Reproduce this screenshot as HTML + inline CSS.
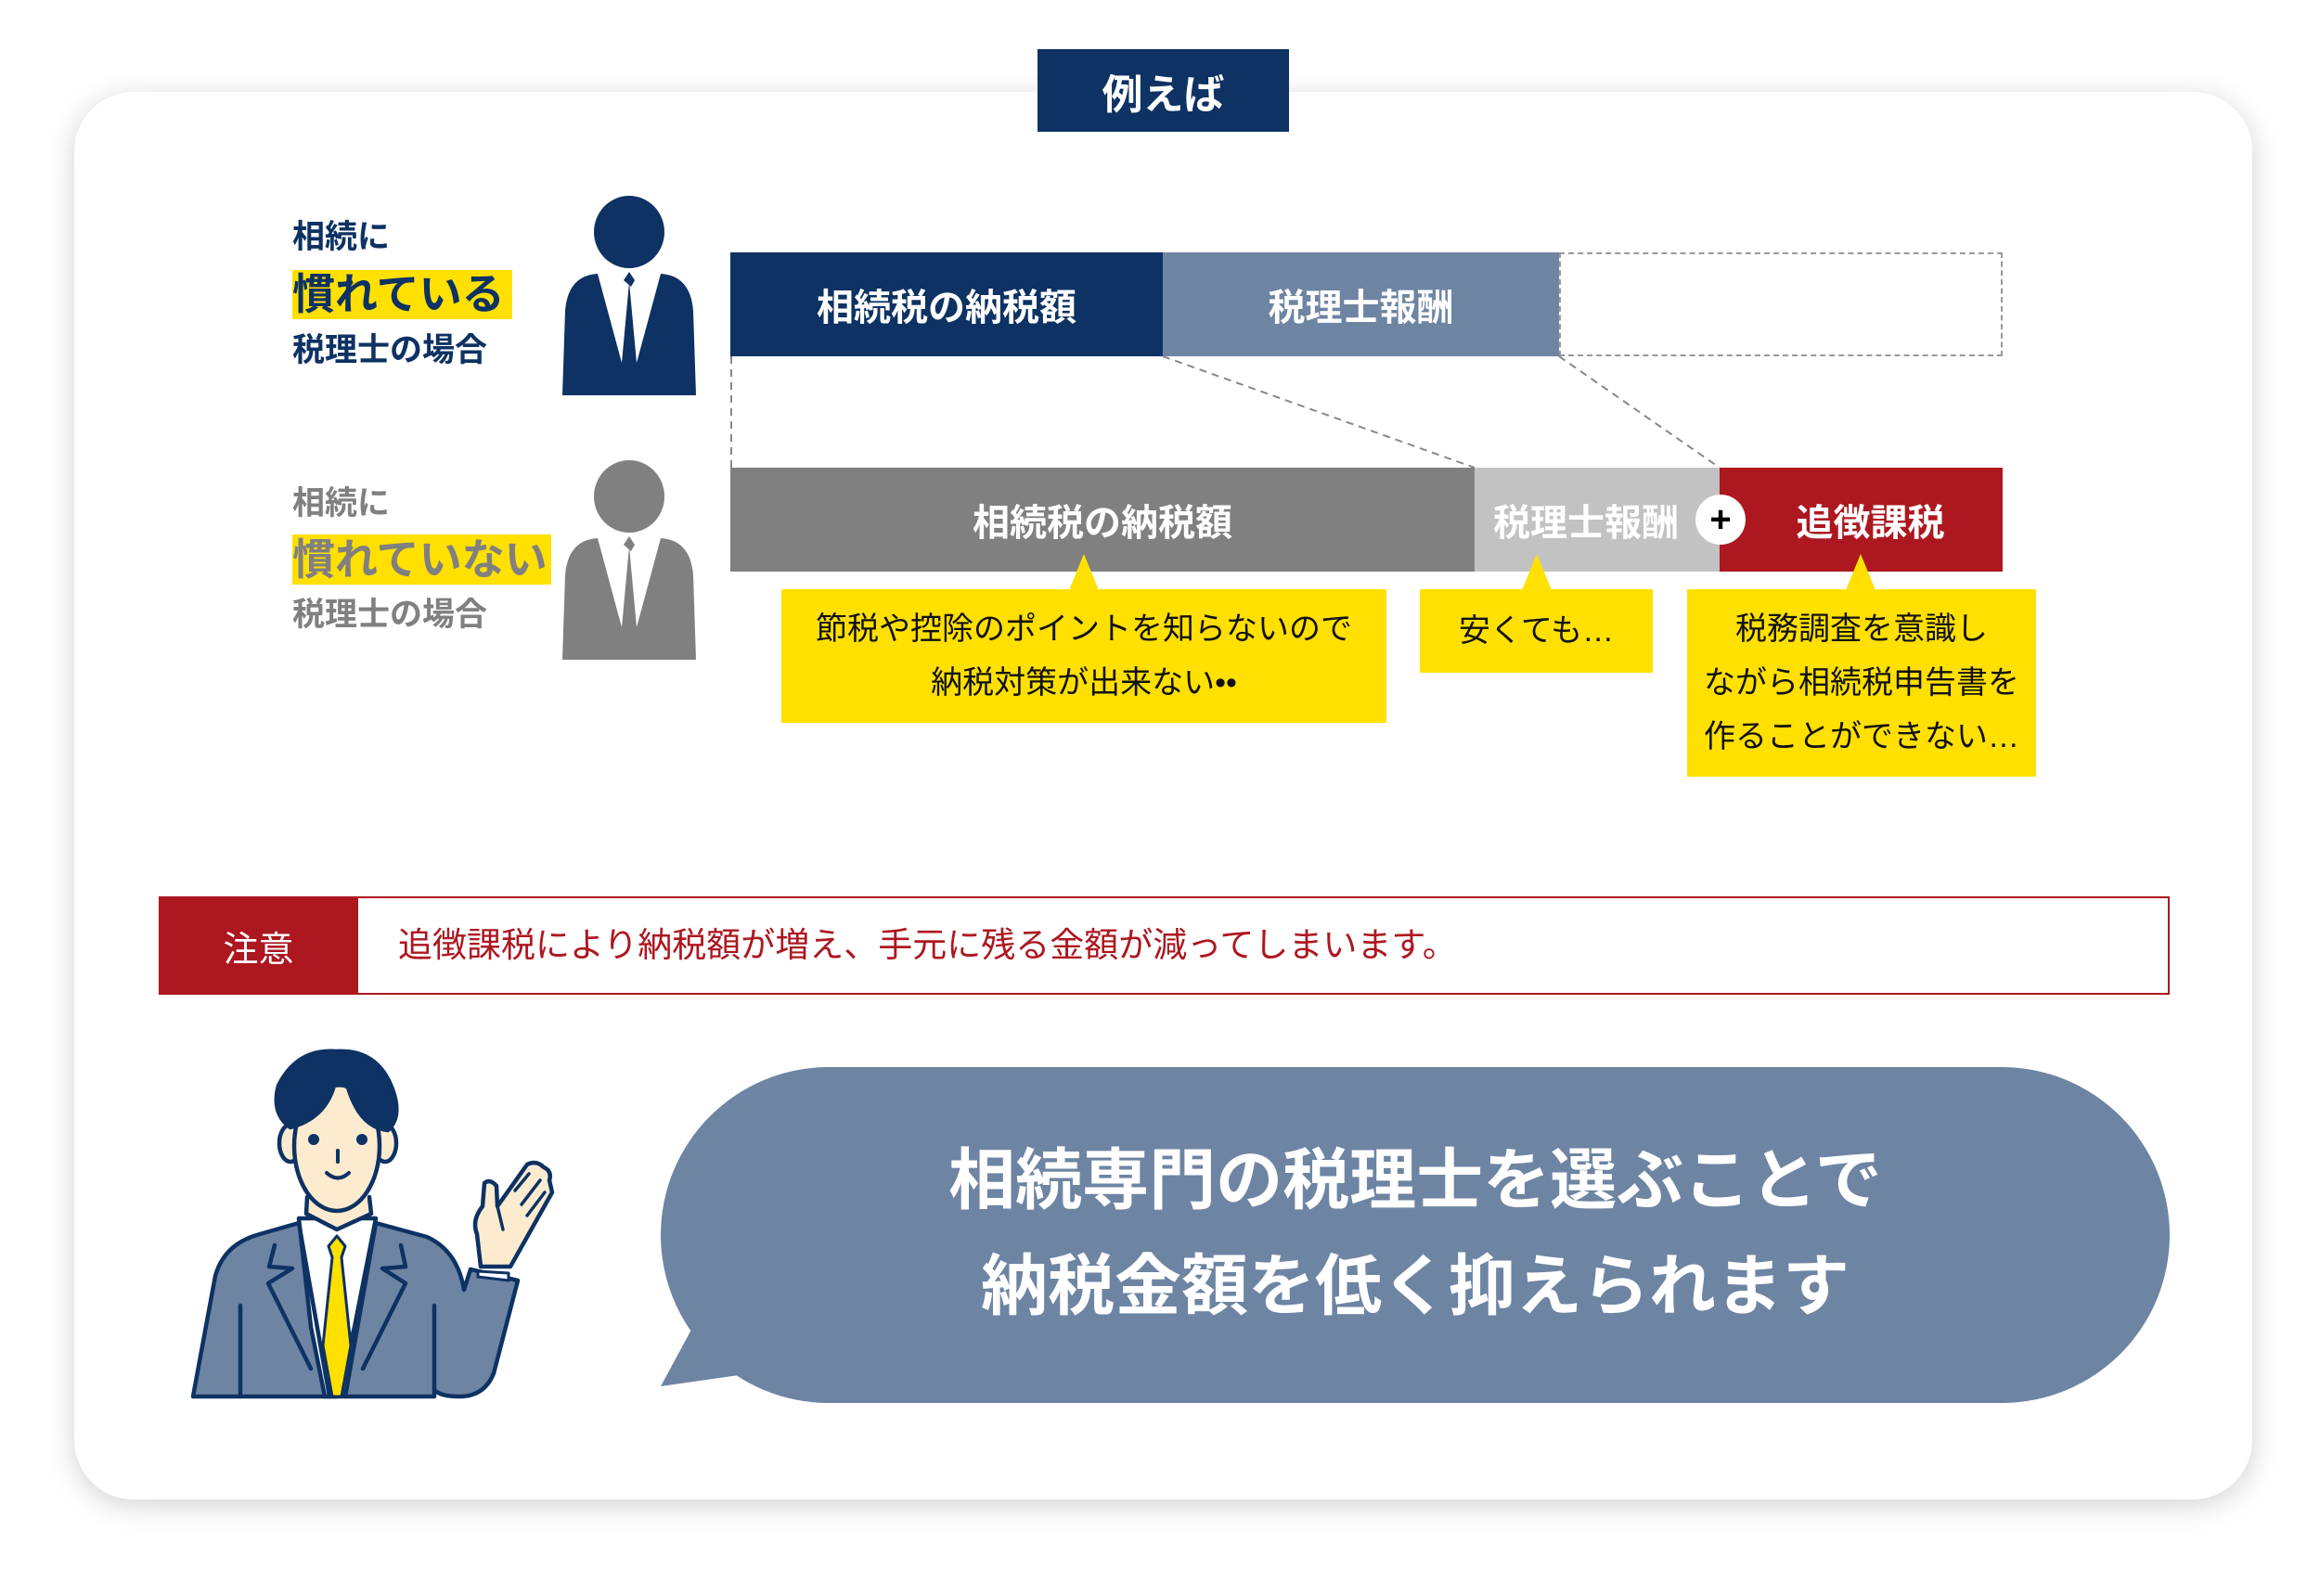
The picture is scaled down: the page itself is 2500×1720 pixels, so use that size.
<!DOCTYPE html>
<html><head><meta charset="utf-8"><style>
*{margin:0;padding:0;box-sizing:border-box}
body{width:2500px;height:1720px;background:#fff;position:relative;overflow:hidden;font-family:"Liberation Sans","Noto Sans CJK JP",sans-serif}
.a{position:absolute}
.card{left:80px;top:99px;width:2347px;height:1517px;border-radius:64px;background:#fff;box-shadow:0 6px 30px rgba(0,0,0,.18)}
.fc{display:flex;align-items:center;justify-content:center}
.bt{color:#fff;font-weight:bold;font-size:40px}
.y{background:#FFE000;color:#111;font-size:34px;line-height:58px;text-align:center}
.lab{font-weight:bold;font-size:35px;line-height:1}
</style></head><body>
<div class="a card"></div>
<div class="a fc" style="left:1118px;top:53px;width:271px;height:89px;background:#0D3263;color:#fff;font-weight:bold;font-size:44px">例えば</div>

<div class="a lab" style="left:315px;top:238px;color:#0D3263">相続に</div>
<div class="a" style="left:315px;top:291px;width:237px;height:53px;background:#FFE000"></div>
<div class="a" style="left:315px;top:285px;color:#0D3263;font-weight:bold;font-size:46px;line-height:64px">慣れている</div>
<div class="a lab" style="left:315px;top:360px;color:#0D3263">税理士の場合</div>

<div class="a lab" style="left:315px;top:525px;color:#808080">相続に</div>
<div class="a" style="left:315px;top:576px;width:279px;height:54px;background:#FFE000"></div>
<div class="a" style="left:315px;top:571px;color:#808080;font-weight:bold;font-size:46px;line-height:64px">慣れていない</div>
<div class="a lab" style="left:315px;top:645px;color:#808080">税理士の場合</div>

<svg class="a" style="left:600px;top:205px" width="160" height="520" viewBox="0 0 160 520">
<g fill="#0D3263">
<ellipse cx="78" cy="45" rx="38" ry="39"/>
<path d="M6,221 L9,130 Q12,92 44,90 L70,186 L78,99 L86,186 L112,90 Q144,92 147,130 L150,221 Z"/>
<path d="M72,97 L78,88 L84,97 L80,104 Z"/>
</g>
<g fill="#808080">
<ellipse cx="78" cy="330" rx="38" ry="39"/>
<path d="M6,506 L9,415 Q12,377 44,375 L70,471 L78,384 L86,471 L112,375 Q144,377 147,415 L150,506 Z"/>
<path d="M72,382 L78,373 L84,382 L80,389 Z"/>
</g>
</svg>

<div class="a fc bt" style="left:787px;top:272px;width:466px;height:112px;background:#0D3263">相続税の納税額</div>
<div class="a fc bt" style="left:1253px;top:272px;width:427px;height:112px;background:#6E84A3">税理士報酬</div>
<div class="a" style="left:1680px;top:272px;width:478px;height:112px;border:2px dashed #999"></div>

<svg class="a" style="left:0;top:0" width="2500" height="1720" viewBox="0 0 2500 1720">
<g stroke="#888" stroke-width="2" stroke-dasharray="8,6" fill="none">
<line x1="788" y1="384" x2="788" y2="504"/>
<line x1="1253" y1="384" x2="1589" y2="504"/>
<line x1="1680" y1="384" x2="1853" y2="504"/>
</g>
</svg>

<div class="a fc bt" style="left:787px;top:504px;width:802px;height:112px;background:#808080">相続税の納税額</div>
<div class="a fc bt" style="left:1589px;top:504px;width:264px;height:112px;background:#C2C2C2;padding-right:24px">税理士報酬</div>
<div class="a fc bt" style="left:1853px;top:504px;width:305px;height:112px;background:#AD1720;padding-left:20px">追徴課税</div>
<div class="a fc" style="left:1827px;top:533px;width:54px;height:54px;border-radius:50%;background:#fff;color:#000;font-weight:bold;font-size:40px;line-height:1">+</div>

<svg class="a" style="left:0;top:0" width="2500" height="1720" viewBox="0 0 2500 1720">
<g fill="#FFE000">
<polygon points="1168,597 1152,636 1184,636"/>
<polygon points="1656,597 1640,636 1672,636"/>
<polygon points="2005,597 1989,636 2021,636"/>
</g>
</svg>
<div class="a y fc" style="left:842px;top:635px;width:652px;height:144px">節税や控除のポイントを知らないので<br>納税対策が出来ない••</div>
<div class="a y fc" style="left:1530px;top:635px;width:251px;height:90px">安くても…</div>
<div class="a y fc" style="left:1818px;top:635px;width:376px;height:202px">税務調査を意識し<br>ながら相続税申告書を<br>作ることができない…</div>

<div class="a" style="left:171px;top:966px;width:2167px;height:106px;border:2px solid #AD1720"></div>
<div class="a fc" style="left:171px;top:966px;width:215px;height:106px;background:#AD1720;color:#fff;font-size:38px">注意</div>
<div class="a" style="left:429px;top:966px;height:106px;line-height:106px;color:#AD1720;font-size:37px">追徴課税により納税額が増え、手元に残る金額が減ってしまいます。</div>

<svg class="a" style="left:0;top:0" width="2500" height="1720" viewBox="0 0 2500 1720">
<polygon points="712,1494 752,1420 810,1480" fill="#6E84A3"/>
</svg>
<div class="a" style="left:712px;top:1150px;width:1626px;height:362px;border-radius:181px;background:#6E84A3"></div>
<div class="a" style="left:712px;top:1150px;width:1626px;height:362px;color:#fff;font-weight:bold;font-size:72px;line-height:114px;text-align:center;padding-top:66px">相続専門の税理士を選ぶことで<br>納税金額を低く抑えられます</div>

<svg class="a" style="left:150px;top:1100px" width="500" height="450" viewBox="0 0 500 450">
<g stroke="#0D3263" stroke-width="4.5" stroke-linejoin="round" stroke-linecap="round">
<path d="M58,405 L82,275 Q92,240 130,230 L172,218 L255,218 L310,233 Q343,248 350,290 L357,268 L408,280 L382,380 Q372,405 345,405 Q325,405 318,398 L318,405 Z" fill="#6E84A3"/>
<path d="M172,213 L255,213 L232,330 L213,405 L200,405 L185,330 Z" fill="#fff"/>
<path d="M213,232 L222,243 L218,255 L228,350 L218,405 L208,405 L198,350 L208,255 L204,243 Z" fill="#FFE000" stroke-width="3"/>
<path d="M172,218 L205,405 M255,218 L222,405" fill="none"/>
<path d="M146,242 L140,265 L165,267 L139,283 L185,375 M282,242 L287,265 L262,267 L287,283 L241,375" fill="none"/>
<path d="M109,307 L109,405 M318,307 L318,398" fill="none"/>
<path d="M181,190 L180,208 L213,225 L250,208 L248,190" fill="#FDEBD0"/>
<ellipse cx="163" cy="132" rx="12" ry="20" fill="#FDEBD0"/>
<ellipse cx="265" cy="132" rx="12" ry="20" fill="#FDEBD0"/>
<ellipse cx="213" cy="135" rx="46" ry="70" fill="#FDEBD0"/>
<path d="M163,115 Q142,100 150,70 Q170,30 212,33 Q260,30 275,80 Q282,105 268,118 Q238,115 225,72 Q220,68 210,70 Q200,105 163,115 Z" fill="#0D3263"/>
<path d="M368,265 L364,230 Q358,215 370,200 L372,175 Q378,170 385,178 L386,200 L418,155 Q428,150 436,158 Q445,162 442,172 L445,185 L400,265 Z" fill="#FDEBD0"/>
<path d="M365,270 L398,272 L398,280 L365,276 Z" fill="#fff" stroke-width="3"/>
<path d="M405,183 L420,165 M412,198 L432,172 M418,210 L437,185 M386,200 L392,225" fill="none" stroke-width="3.5"/>
</g>
<g fill="#0D3263">
<circle cx="188" cy="128" r="6"/><circle cx="240" cy="128" r="6"/>
</g>
<path d="M214,140 L214,152 M202,164 Q214,175 226,164" stroke="#0D3263" stroke-width="4" fill="none" stroke-linecap="round"/>
</svg>
</body></html>
